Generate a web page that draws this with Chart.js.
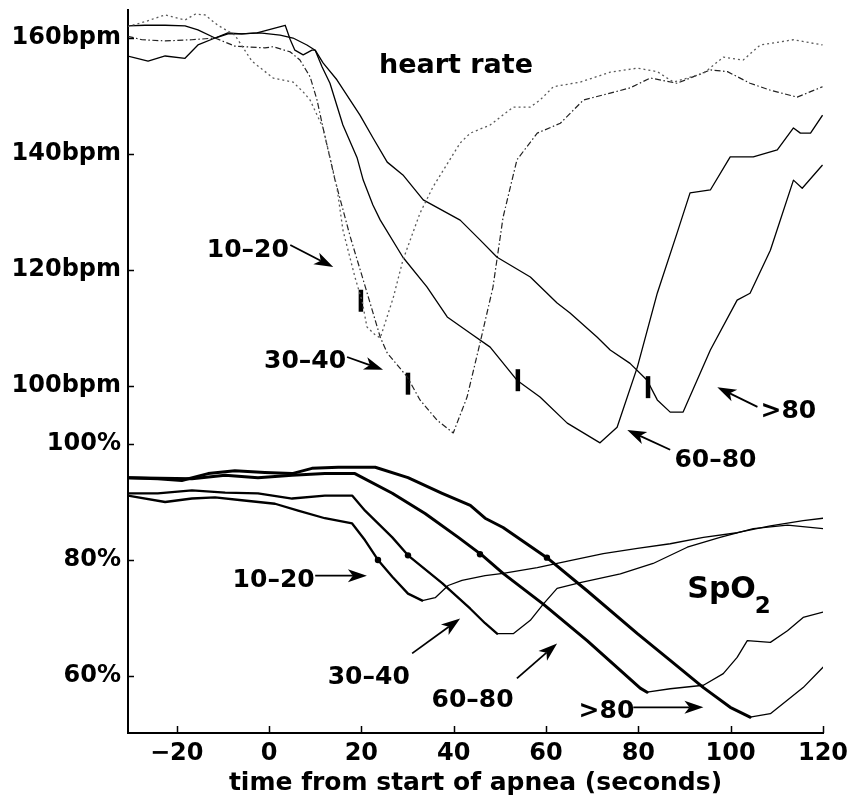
<!DOCTYPE html>
<html>
<head>
<meta charset="utf-8">
<title>Heart rate and SpO2 during apnea</title>
<style>
  html, body { margin: 0; padding: 0; background: #fff; }
  #wrap { width: 853px; height: 802px; }
</style>
<script src="https://cdn.jsdelivr.net/npm/chart.js@4.4.1/dist/chart.umd.min.js"></script>
</head>
<body>
<div id="wrap"><canvas id="c" width="853" height="802"></canvas></div>
<script>
// ---- axis ticks ----
const xTicks = [-20, 0, 20, 40, 60, 80, 100, 120];
const hrTicks = [160, 140, 120, 100];     // bpm
const spo2Ticks = [100, 80, 60];          // %

// ---- heart rate (bpm) by apnea-duration group ----
const hrT_10_20 = [-30.6, -26.9, -22.5, -18.2, -16.0, -13.9, -11.1, -7.4, -3.7, 0.9, 5.2, 7.4, 8.9, 11.7, 14.7, 16.0, 18.6, 20.2, 21.2, 23.0, 24.1, 26.9, 29.0, 32.7, 35.5, 41.4, 43.6, 47.9, 52.9, 56.6, 58.7, 61.6, 67.4, 73.9, 79.8, 84.1, 87.6, 94.1, 98.4, 102.7, 106.4, 113.6, 119.9];
const hr_10_20  = [162.0, 162.8, 164.0, 163.1, 164.1, 164.0, 162.2, 160.5, 156.0, 153.1, 152.4, 150.7, 149.3, 144.5, 134.3, 126.9, 118.8, 114.5, 110.2, 108.8, 108.3, 115.2, 121.7, 129.8, 134.3, 141.9, 143.6, 145.0, 148.1, 148.1, 149.3, 151.6, 152.4, 154.1, 154.8, 154.2, 152.4, 153.9, 156.7, 156.2, 158.8, 159.7, 158.8];

const hrT_30_40 = [-30.6, -27.5, -22.5, -16.7, -11.7, -7.4, -0.9, 0.9, 4.6, 6.7, 8.9, 10.4, 11.7, 14.3, 17.6, 20.4, 24.1, 25.6, 29.9, 32.7, 36.4, 39.9, 42.9, 45.7, 48.5, 50.7, 53.7, 58.1, 63.1, 68.1, 73.9, 78.2, 82.6, 88.4, 95.6, 99.3, 104.2, 108.6, 114.4, 119.9];
const hr_30_40  = [160.3, 159.7, 159.5, 159.7, 160.0, 158.6, 158.3, 158.5, 157.6, 156.2, 153.3, 149.3, 144.5, 135.5, 125.7, 118.3, 108.4, 105.7, 101.6, 97.6, 94.1, 91.9, 98.1, 107.4, 117.0, 129.1, 139.0, 143.6, 145.3, 149.3, 150.5, 151.4, 153.1, 152.2, 154.5, 154.2, 152.2, 151.0, 149.8, 151.6];

const hrT_60_80 = [-30.6, -26.9, -22.5, -18.2, -15.4, -11.7, -8.9, -5.9, -2.6, 3.5, 4.6, 5.6, 7.4, 9.3, 10.0, 11.5, 13.2, 16.0, 19.1, 20.4, 22.5, 24.1, 29.0, 34.2, 38.6, 43.6, 47.9, 53.7, 58.7, 64.6, 71.7, 75.4, 79.8, 84.1, 88.4, 91.2, 95.6, 99.9, 104.9, 110.1, 113.6, 115.1, 117.3, 119.9];
const hr_60_80  = [162.1, 162.2, 162.2, 162.1, 161.4, 160.0, 160.9, 160.7, 160.9, 162.2, 159.7, 157.9, 157.1, 157.9, 157.9, 155.0, 152.2, 145.0, 139.3, 135.5, 131.2, 128.6, 122.2, 117.1, 111.9, 109.1, 106.7, 101.0, 98.1, 93.6, 90.2, 92.9, 103.3, 116.0, 126.4, 133.3, 133.8, 139.5, 139.5, 140.7, 144.5, 143.6, 143.6, 146.7];

const hrT_80 = [-30.6, -26.2, -22.5, -18.2, -15.4, -11.7, -8.9, -5.9, -2.0, 2.4, 5.2, 8.2, 10.0, 11.7, 14.7, 19.7, 22.5, 25.6, 29.0, 33.4, 41.4, 45.7, 49.4, 56.6, 62.4, 65.2, 71.1, 73.9, 78.2, 81.9, 84.1, 86.9, 89.7, 95.6, 101.4, 104.2, 108.6, 113.6, 115.5, 119.9];
const hr_80  = [156.9, 156.0, 156.9, 156.5, 158.8, 160.0, 160.7, 160.7, 160.9, 160.5, 160.0, 158.8, 157.9, 155.7, 152.8, 146.7, 142.8, 138.6, 136.4, 132.1, 128.6, 125.2, 122.2, 118.8, 114.3, 112.6, 108.4, 106.2, 103.9, 101.0, 97.6, 95.5, 95.5, 106.2, 114.8, 116.0, 123.4, 135.5, 134.1, 138.1];

// ---- SpO2 (%) by apnea-duration group ----
const spT_10_20 = [-30.6, -22.5, -16.7, -11.7, -5.9, 1.3, 6.3, 12.1, 18.0, 20.8, 23.6, 26.7, 30.1, 33.2, 36.0, 38.8, 41.8, 46.8, 50.7, 58.1, 65.2, 72.4, 79.8, 86.9, 94.1, 101.4, 108.6, 115.7, 120.0];
const sp_10_20  = [91.1, 90.0, 90.6, 90.8, 90.3, 89.7, 88.5, 87.2, 86.3, 83.4, 80.0, 77.1, 74.2, 73.0, 73.5, 75.6, 76.5, 77.3, 77.7, 78.7, 79.9, 81.1, 82.0, 82.8, 83.9, 84.7, 85.9, 86.8, 87.2];

const spT_30_40 = [-30.6, -24.1, -16.7, -9.5, -2.4, 5.0, 12.1, 18.0, 20.8, 26.7, 30.1, 37.5, 43.6, 46.8, 49.4, 52.9, 56.6, 59.4, 62.4, 67.4, 76.1, 83.2, 90.6, 97.7, 104.9, 112.3, 120.0];
const sp_30_40  = [91.5, 91.5, 92.0, 91.6, 91.5, 90.6, 91.1, 91.1, 88.5, 83.9, 80.8, 76.0, 71.6, 69.1, 67.3, 67.3, 69.6, 72.4, 75.1, 76.1, 77.6, 79.4, 82.2, 83.9, 85.4, 86.0, 85.4];

const spT_60_80 = [-30.6, -16.7, -9.5, -2.4, 5.0, 12.1, 18.6, 26.7, 33.8, 41.0, 46.2, 50.7, 59.4, 68.9, 80.4, 81.9, 86.9, 94.1, 98.4, 101.4, 103.6, 108.6, 112.3, 115.7, 120.0];
const sp_60_80  = [94.2, 94.0, 94.6, 94.2, 94.6, 94.9, 94.9, 91.5, 88.0, 83.9, 80.8, 77.7, 72.4, 66.1, 57.9, 57.2, 57.8, 58.4, 60.4, 63.2, 66.1, 65.8, 67.8, 70.1, 71.0];

const spT_80 = [-30.6, -24.1, -18.9, -13.2, -7.4, -0.9, 5.0, 9.3, 15.0, 19.3, 23.0, 30.1, 37.5, 43.6, 46.8, 50.7, 60.2, 68.9, 79.8, 86.9, 94.1, 99.9, 104.2, 108.6, 115.7, 120.0];
const sp_80  = [94.2, 94.0, 93.7, 94.9, 95.4, 95.1, 94.9, 95.8, 96.0, 96.0, 96.0, 94.2, 91.5, 89.4, 87.2, 85.6, 80.4, 74.7, 67.3, 62.7, 58.0, 54.6, 52.9, 53.5, 58.0, 61.5];

// ---- end-of-apnea marks ----
const hrMarkT  = [19.9, 30.1, 53.9, 82.1];
const hrMarkV  = [114.7, 100.4, 101.0, 99.8];
const spMarkT  = [23.6, 30.1, 45.7, 60.2];
const spMarkV  = [80.0, 80.8, 81.0, 80.4];

// ---- axis ranges: both panels share one plot box ----
const X_MIN = -30.55, X_MAX = 120;
const HR_MIN = 40.17, HR_MAX = 164.83;
const SPO2_SHIFT = 10;                      // SpO2 scale sits 10 units above the bpm scale
const SP_MIN = HR_MIN + SPO2_SHIFT, SP_MAX = HR_MAX + SPO2_SHIFT;

const FONT = "'DejaVu Sans', 'Liberation Sans', Arial, sans-serif";

const pts = (t, v) => t.map((x, i) => ({ x, y: v[i] }));

// heavier stroke up to the saturation minimum, thin for the recovery
function spSegment(t, v, heavy) {
  const tMin = t[v.indexOf(Math.min(...v))];
  return { borderWidth: c => (c.p1.parsed.x <= tMin ? heavy : 1.3) };
}

// label / arrow placement (x in seconds, y in the panel's own units)
const notes = [
  { panel: 'hr', text: 'heart rate', x: 40.5, y: 154.0, size: 27 },
  { panel: 'hr', text: '10\u201320', x: -4.6, y: 122.2, size: 25 },
  { panel: 'hr', text: '30\u201340', x: 7.8, y: 103.1, size: 25 },
  { panel: 'hr', text: '>80', x: 112.5, y: 94.5, size: 25 },
  { panel: 'hr', text: '60\u201380', x: 96.7, y: 86.0, size: 25 },
  { panel: 'sp', text: '10\u201320', x: 1.0, y: 75.3, size: 25 },
  { panel: 'sp', text: '30\u201340', x: 21.6, y: 58.7, size: 25 },
  { panel: 'sp', text: '60\u201380', x: 44.1, y: 54.6, size: 25 },
  { panel: 'sp', text: '>80', x: 73.1, y: 52.8, size: 25 }
];
const arrows = [
  { panel: 'hr', from: [4.6, 124.3], to: [13.9, 120.5] },
  { panel: 'hr', from: [16.9, 105.0], to: [24.7, 102.8] },
  { panel: 'hr', from: [105.8, 96.4], to: [97.1, 99.8] },
  { panel: 'hr', from: [86.9, 89.0], to: [77.6, 92.4] },
  { panel: 'sp', from: [10.0, 77.3], to: [21.2, 77.3] },
  { panel: 'sp', from: [31.0, 63.9], to: [41.4, 69.9] },
  { panel: 'sp', from: [53.7, 59.6], to: [62.4, 65.6] },
  { panel: 'sp', from: [78.9, 54.6], to: [94.1, 54.6] }
];
const spo2Label = { x: 90.6, y: 73.4 };

function drawArrow(ctx, x1, y1, x2, y2) {
  const a = Math.atan2(y2 - y1, x2 - x1);
  const L = 19, W = 6.5, notch = 5;
  ctx.beginPath();
  ctx.moveTo(x1, y1);
  ctx.lineTo(x2 - Math.cos(a) * (L - notch), y2 - Math.sin(a) * (L - notch));
  ctx.lineWidth = 1.8;
  ctx.stroke();
  ctx.save();
  ctx.translate(x2, y2);
  ctx.rotate(a);
  ctx.beginPath();
  ctx.moveTo(0, 0);
  ctx.lineTo(-L, -W);
  ctx.lineTo(-L + notch, 0);
  ctx.lineTo(-L, W);
  ctx.closePath();
  ctx.fill();
  ctx.restore();
}

const decorations = {
  id: 'decorations',
  afterDraw(chart) {
    const { ctx, chartArea } = chart;
    const xs = chart.scales.x, yh = chart.scales.yHR, ys = chart.scales.ySpO2;
    const yOf = (p, v) => (p === 'hr' ? yh : ys).getPixelForValue(v);
    ctx.save();
    ctx.strokeStyle = '#000';
    ctx.fillStyle = '#000';

    // inward tick marks
    ctx.lineWidth = 1.5;
    ctx.beginPath();
    xs.ticks.forEach(t => {
      const px = Math.round(xs.getPixelForValue(t.value)) + 0.5;
      ctx.moveTo(px, chartArea.bottom);
      ctx.lineTo(px, chartArea.bottom - 7);
    });
    yh.ticks.forEach(t => {
      const py = Math.round(yh.getPixelForValue(t.value)) + 0.5;
      ctx.moveTo(chartArea.left, py);
      ctx.lineTo(chartArea.left + 6, py);
    });
    ctx.stroke();

    // labels
    ctx.textBaseline = 'alphabetic';
    ctx.textAlign = 'center';
    notes.forEach(n => {
      ctx.font = `bold ${n.size}px ${FONT}`;
      ctx.fillText(n.text, xs.getPixelForValue(n.x), yOf(n.panel, n.y));
    });

    // SpO2 with subscript
    ctx.textAlign = 'left';
    const sx = xs.getPixelForValue(spo2Label.x), sy = ys.getPixelForValue(spo2Label.y);
    ctx.font = `bold 30px ${FONT}`;
    ctx.fillText('SpO', sx, sy);
    const w = ctx.measureText('SpO').width;
    ctx.font = `bold 23px ${FONT}`;
    ctx.fillText('2', sx + w - 1, sy + 15);

    // arrows
    arrows.forEach(a => {
      drawArrow(ctx,
        xs.getPixelForValue(a.from[0]), yOf(a.panel, a.from[1]),
        xs.getPixelForValue(a.to[0]), yOf(a.panel, a.to[1]));
    });
    ctx.restore();
  }
};

const hrLine = (t, v, extra) => Object.assign({
  data: pts(t, v), yAxisID: 'yHR', borderColor: '#000', borderWidth: 1.3,
  pointRadius: 0, fill: false, borderJoinStyle: 'round'
}, extra);
const spLine = (t, v, heavy) => ({
  data: pts(t, v), yAxisID: 'ySpO2', borderColor: '#000', borderWidth: heavy,
  pointRadius: 0, fill: false, borderJoinStyle: 'round', borderCapStyle: 'round',
  segment: spSegment(t, v, heavy)
});

new Chart(document.getElementById('c'), {
  type: 'line',
  data: {
    datasets: [
      hrLine(hrT_10_20, hr_10_20, { label: 'HR 10-20', borderColor: '#5a5a5a', borderWidth: 1.3, borderDash: [2, 3] }),
      hrLine(hrT_30_40, hr_30_40, { label: 'HR 30-40', borderColor: '#222', borderWidth: 1.2, borderDash: [6, 2.5, 1.5, 2.5] }),
      hrLine(hrT_60_80, hr_60_80, { label: 'HR 60-80' }),
      hrLine(hrT_80, hr_80, { label: 'HR >80' }),
      Object.assign(spLine(spT_10_20, sp_10_20, 2.3), { label: 'SpO2 10-20' }),
      Object.assign(spLine(spT_30_40, sp_30_40, 2.3), { label: 'SpO2 30-40' }),
      Object.assign(spLine(spT_60_80, sp_60_80, 3), { label: 'SpO2 60-80' }),
      Object.assign(spLine(spT_80, sp_80, 3), { label: 'SpO2 >80' }),
      {
        label: 'HR end of apnea', data: pts(hrMarkT, hrMarkV), yAxisID: 'yHR', showLine: false,
        pointStyle: 'line', pointRotation: 90, pointRadius: 11, pointBorderWidth: 4.5,
        pointBorderColor: '#000', pointBackgroundColor: '#000'
      },
      {
        label: 'SpO2 end of apnea', data: pts(spMarkT, spMarkV), yAxisID: 'ySpO2', showLine: false,
        pointStyle: 'circle', pointRadius: 3.2, pointBorderWidth: 0,
        pointBackgroundColor: '#000'
      }
    ]
  },
  options: {
    responsive: false,
    animation: false,
    devicePixelRatio: 1,
    layout: { autoPadding: false, padding: { left: 0, right: 30, top: 10, bottom: 0 } },
    plugins: { legend: { display: false }, tooltip: { enabled: false } },
    elements: { line: { tension: 0 } },
    scales: {
      x: {
        type: 'linear', min: X_MIN, max: X_MAX,
        afterBuildTicks: s => { s.ticks = xTicks.map(v => ({ value: v })); },
        afterFit: s => { s.height = 69; s.paddingLeft = 0; s.paddingRight = 0; },
        grid: { display: false, drawTicks: false },
        border: { display: true, color: '#000', width: 2 },
        ticks: {
          color: '#000', padding: 6, maxRotation: 0, autoSkip: false,
          font: { family: FONT, size: 24, weight: 'bold' },
          callback: v => (v < 0 ? '\u2212' + Math.abs(v) : String(v))
        },
        title: {
          display: true, text: 'time from start of apnea (seconds)', color: '#000',
          font: { family: FONT, size: 25, weight: 'bold' }, padding: { top: 0, bottom: 4 }
        }
      },
      yHR: {
        type: 'linear', position: 'left', min: HR_MIN, max: HR_MAX,
        afterBuildTicks: s => {
          s.ticks = hrTicks.map(v => ({ value: v }))
            .concat(spo2Ticks.map(v => ({ value: v - SPO2_SHIFT })));
        },
        // fixed axis width; the labels sit well inside the plot height
        afterFit: s => { s.width = 128; s.paddingTop = 0; s.paddingBottom = 0; },
        grid: { display: false, drawTicks: false },
        border: { display: true, color: '#000', width: 2 },
        ticks: {
          color: '#000', padding: 7, autoSkip: false,
          font: { family: FONT, size: 24, weight: 'bold' },
          callback: (v, i) => (i < hrTicks.length
            ? hrTicks[i] + 'bpm'
            : spo2Ticks[i - hrTicks.length] + '%')
        }
      },
      ySpO2: {
        type: 'linear', display: false, min: SP_MIN, max: SP_MAX
      }
    }
  },
  plugins: [decorations]
});
</script>
</body>
</html>
